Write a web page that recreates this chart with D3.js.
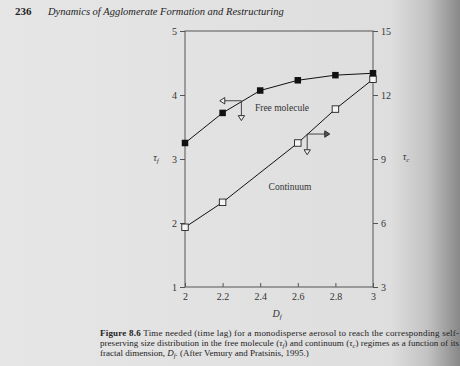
<!DOCTYPE html>
<html><head><meta charset="utf-8">
<script src="https://cdn.jsdelivr.net/npm/d3@7"></script>
<style>
html,body{margin:0;padding:0;}
body{width:460px;height:366px;overflow:hidden;}
svg{display:block;font-family:"Liberation Serif","DejaVu Serif",serif;}
</style></head>
<body>
<svg id="c" width="460" height="366"></svg>
<script>
// ---- data ----
const dfTicks = [2, 2.2, 2.4, 2.6, 2.8, 3];
const tauFTicks = [1, 2, 3, 4, 5];
const tauCTicks = [3, 6, 9, 12, 15];
const freeDf = [2, 2.2, 2.4, 2.6, 2.8, 3];
const freeTau = [3.25, 3.72, 4.07, 4.23, 4.31, 4.34];
const contDf = [2, 2.2, 2.6, 2.8, 3];
const contTau = [5.8, 6.97, 9.75, 11.34, 12.74];
// arrow annotations (data coords): corner, horizontal end, vertical end
const freeArrow = {df: 2.3, tau: 3.91, dfEnd: 2.185, tauEnd: 3.6};
const contArrow = {df: 2.65, tau: 10.17, dfEnd: 2.77, tauEnd: 9.2};

const svg = d3.select("#c");
const defs = svg.append("defs");
const g = defs.append("linearGradient").attr("id","bg").attr("x1","0").attr("x2","1").attr("y1","0").attr("y2","0");
g.append("stop").attr("offset","0").attr("stop-color","#e6e6e6");
g.append("stop").attr("offset","0.85").attr("stop-color","#dedede");
g.append("stop").attr("offset","0.93").attr("stop-color","#c2c2c2");
g.append("stop").attr("offset","1").attr("stop-color","#888888");
svg.append("rect").attr("width",460).attr("height",366).attr("fill","url(#bg)");

const x = d3.scaleLinear().domain([2,3]).range([185,373]);
const yL = d3.scaleLinear().domain([1,5]).range([287,31]);
const yR = d3.scaleLinear().domain([3,15]).range([287,31]);

// header
svg.append("text").attr("x",15).attr("y",15).attr("font-size",11).attr("font-weight","bold").attr("fill","#222").text("236");
svg.append("text").attr("x",48).attr("y",15).attr("font-size",10.5).attr("font-style","italic").attr("fill","#222")
  .text("Dynamics of Agglomerate Formation and Restructuring");

const axCol = "#555";
// frame
svg.append("rect").attr("x",185).attr("y",31).attr("width",188).attr("height",256)
  .attr("fill","none").attr("stroke",axCol).attr("stroke-width",1);

const styleAxis = sel => {
  sel.select(".domain").remove();
  sel.selectAll("line").attr("stroke",axCol);
  sel.selectAll("text").attr("font-family","Liberation Serif, serif").attr("font-size",10).attr("fill","#333");
};
svg.append("g").attr("transform","translate(0,287)")
  .call(d3.axisBottom(x).tickValues(dfTicks).tickSize(-4).tickPadding(6).tickFormat(d3.format("~g")))
  .call(styleAxis);
svg.append("g").attr("transform","translate(185,0)")
  .call(d3.axisLeft(yL).tickValues(tauFTicks).tickSize(5).tickPadding(3).tickFormat(d3.format("d")))
  .call(styleAxis);
svg.append("g").attr("transform","translate(373,0)")
  .call(d3.axisRight(yR).tickValues(tauCTicks).tickSize(5).tickPadding(3).tickFormat(d3.format("d")))
  .call(styleAxis);

// axis labels
const lab = (xx, yy, main, sub) => {
  const t = svg.append("text").attr("x",xx).attr("y",yy).attr("font-size",10).attr("font-style","italic").attr("fill","#333").attr("text-anchor","middle");
  t.append("tspan").text(main);
  t.append("tspan").attr("font-size",7).attr("dy",2).text(sub);
};
lab(156,161,"τ","f");
lab(406,160,"τ","c");
lab(277,317,"D","f");

// lines
const lineF = d3.line().x((d,i)=>x(freeDf[i])).y((d,i)=>yL(freeTau[i]));
const lineC = d3.line().x((d,i)=>x(contDf[i])).y((d,i)=>yR(contTau[i]));
svg.append("path").attr("d",lineC(contTau)).attr("fill","none").attr("stroke","#111").attr("stroke-width",1);
svg.append("path").attr("d",lineF(freeTau)).attr("fill","none").attr("stroke","#111").attr("stroke-width",1);

const s = 6.5;
svg.selectAll(".oc").data(contTau).join("rect")
  .attr("x",(d,i)=>x(contDf[i])-s/2).attr("y",d=>yR(d)-s/2).attr("width",s).attr("height",s)
  .attr("fill","#f4f4f4").attr("stroke","#222").attr("stroke-width",0.9);
svg.selectAll(".fc").data(freeTau).join("rect")
  .attr("x",(d,i)=>x(freeDf[i])-s/2).attr("y",d=>yL(d)-s/2).attr("width",s).attr("height",s)
  .attr("fill","#111");

// arrows
const tri = (px, py, dir, fill) => {
  const a = 3.2, b = 5;
  let pts;
  if (dir==="left") pts = [[px,py],[px+b,py-a],[px+b,py+a]];
  if (dir==="right") pts = [[px,py],[px-b,py-a],[px-b,py+a]];
  if (dir==="down") pts = [[px,py],[px-a,py-b],[px+a,py-b]];
  svg.append("polygon").attr("points",pts.map(p=>p.join(",")).join(" "))
    .attr("fill",fill).attr("stroke","#222").attr("stroke-width",0.9);
};
{
  const cx = x(freeArrow.df), cy = yL(freeArrow.tau);
  const hx = x(freeArrow.dfEnd), vy = yL(freeArrow.tauEnd);
  svg.append("path").attr("d",`M${hx+4},${cy}H${cx}V${vy-4}`).attr("fill","none").attr("stroke","#333").attr("stroke-width",0.9);
  tri(hx, cy, "left", "#eee");
  tri(cx, vy, "down", "#eee");
}
{
  const cx = x(contArrow.df), cy = yR(contArrow.tau);
  const hx = x(contArrow.dfEnd), vy = yR(contArrow.tauEnd);
  svg.append("path").attr("d",`M${hx-4},${cy}H${cx}V${vy-4}`).attr("fill","none").attr("stroke","#333").attr("stroke-width",0.9);
  tri(hx, cy, "right", "#555");
  tri(cx, vy, "down", "#eee");
}

svg.append("text").attr("x",282).attr("y",111).attr("font-size",9.5).attr("fill","#333").attr("text-anchor","middle").text("Free molecule");
svg.append("text").attr("x",290).attr("y",190).attr("font-size",9.5).attr("fill","#333").attr("text-anchor","middle").text("Continuum");

// caption
const cap = svg.append("g").attr("font-size",9).attr("fill","#222");
const l1 = cap.append("text").attr("x",100).attr("y",336).attr("textLength",359).attr("lengthAdjust","spacing");
l1.append("tspan").attr("font-weight","bold").text("Figure 8.6 ");
l1.append("tspan").text("Time needed (time lag) for a monodisperse aerosol to reach the corresponding self-");
const l2 = cap.append("text").attr("x",100).attr("y",346).attr("textLength",359).attr("lengthAdjust","spacing");
l2.append("tspan").text("preserving size distribution in the free molecule (");
l2.append("tspan").attr("font-style","italic").text("τ");
l2.append("tspan").attr("font-style","italic").attr("font-size",6.5).attr("dy",1.5).text("f");
l2.append("tspan").attr("dy",-1.5).text(") and continuum (");
l2.append("tspan").attr("font-style","italic").text("τ");
l2.append("tspan").attr("font-style","italic").attr("font-size",6.5).attr("dy",1.5).text("c");
l2.append("tspan").attr("dy",-1.5).text(") regimes as a function of its");
const l3 = cap.append("text").attr("x",100).attr("y",356);
l3.append("tspan").text("fractal dimension, ");
l3.append("tspan").attr("font-style","italic").text("D");
l3.append("tspan").attr("font-style","italic").attr("font-size",6.5).attr("dy",1.5).text("f");
l3.append("tspan").attr("dy",-1.5).text(". (After Vemury and Pratsinis, 1995.)");
</script>
</body></html>
